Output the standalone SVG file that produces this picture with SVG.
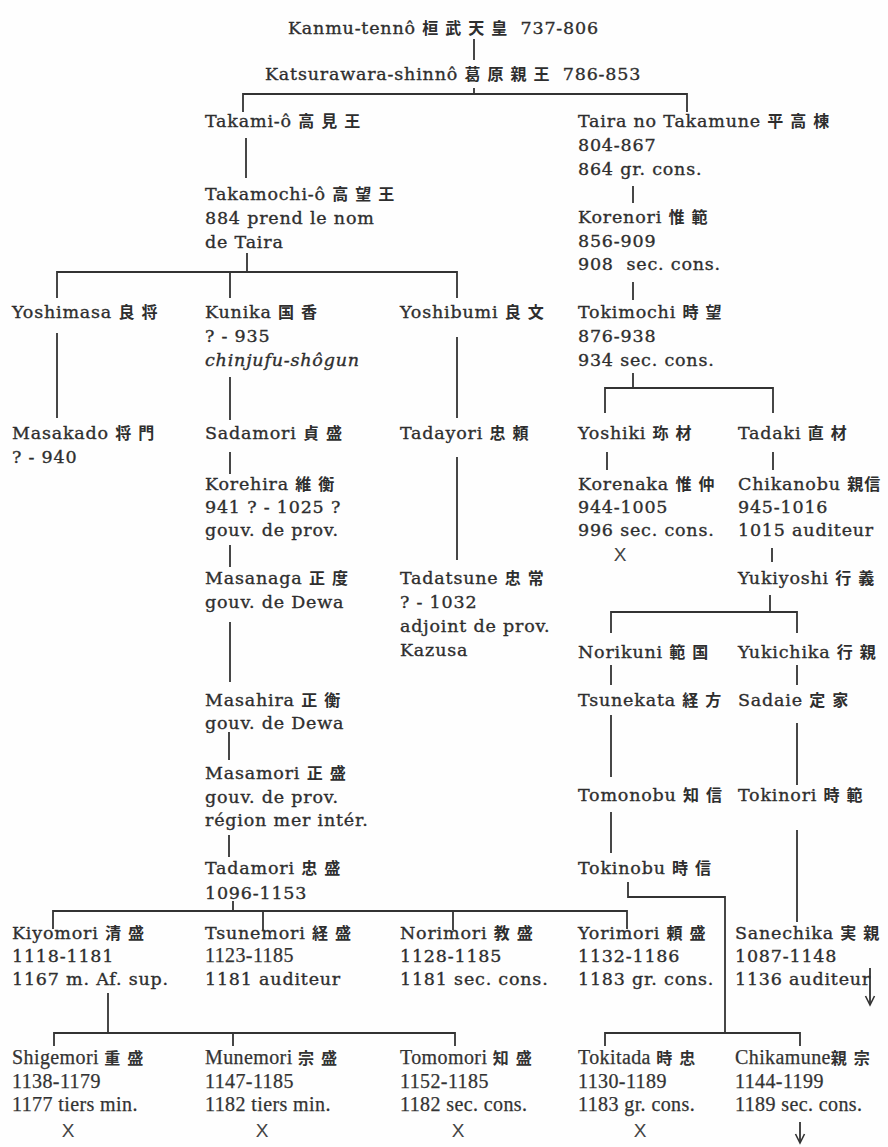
<svg xmlns="http://www.w3.org/2000/svg" width="888" height="1147" viewBox="0 0 888 1147">
<style>
.t{font-family:"DejaVu Serif","Noto Sans CJK JP",serif;font-size:17.5px;fill:#2e2e2e;stroke:#2e2e2e;stroke-width:0.35px;letter-spacing:0.8px}
.b{font-family:"Liberation Serif","Noto Sans CJK JP",serif;font-size:20px;fill:#333;stroke:#333;stroke-width:0.25px;letter-spacing:0.4px}
.k{font-family:"Noto Sans CJK JP",sans-serif;font-size:16px;font-weight:700;letter-spacing:7px;stroke-width:0}
.i{font-style:italic}
.x{font-family:"Liberation Sans",sans-serif;font-size:19px;fill:#444;text-anchor:middle}
.c{fill:none;stroke:#333;stroke-width:1.8}
.a{fill:none;stroke:#333;stroke-width:1.6}
</style>
<rect width="888" height="1147" fill="#fefefe"/>
<g id="connectors" class="c">
<path d="M474 39V60"/>
<path d="M474 88V94M243 112V94H687V112"/>
<path d="M246 138V178"/>
<path d="M633 186V203"/>
<path d="M247 253V272M57 298V272H457V298M230 272V298"/>
<path d="M633 282V300"/>
<path d="M57 333V418"/>
<path d="M230 377V420"/>
<path d="M457 337V418"/>
<path d="M633 373V388M605 413V388H773V413"/>
<path d="M230 452V474"/>
<path d="M457 457V560"/>
<path d="M607 452V470M773 452V470"/>
<path d="M230 545V567"/>
<path d="M772 548V562"/>
<path d="M770 595V612M611 633V612H797V633"/>
<path d="M230 622V682"/>
<path d="M611 665V685M797 665V685"/>
<path d="M229 732V760"/>
<path d="M611 715V777M797 723V785"/>
<path d="M229 835V857"/>
<path d="M611 812V853"/>
<path d="M797 830V922"/>
<path d="M233 901V911M53 929V911H627V929M263 911V930M453 911V930"/>
<path d="M628 882V897H725V1033M605 1046V1033H800V1046"/>
<path d="M108 993V1033M54 1046V1033H455V1046M233 1033V1046"/>
<path d="M870 968V1004"/>
<path class="a" d="M865.5 996L870 1005L874.5 996"/>
<path d="M800 1122V1142"/>
<path class="a" d="M795.5 1134L800 1143L804.5 1134"/>
</g>
<g id="n-kanmu"><text class="t" x="288" y="34">Kanmu-tennô <tspan class="k">桓武天皇</tspan> 737-806</text></g>
<g id="n-katsurawara"><text class="t" x="265" y="80">Katsurawara-shinnô <tspan class="k">葛原親王</tspan> 786-853</text></g>
<g id="n-takami"><text class="t" x="205" y="127">Takami-ô <tspan class="k">高見王</tspan></text></g>
<g id="n-takamune"><text class="t" x="578" y="127">Taira no Takamune <tspan class="k">平高棟</tspan></text><text class="t" x="578" y="151">804-867</text><text class="t" x="578" y="175">864 gr. cons.</text></g>
<g id="n-takamochi"><text class="t" x="205" y="200">Takamochi-ô <tspan class="k">高望王</tspan></text><text class="t" x="205" y="224">884 prend le nom</text><text class="t" x="205" y="248">de Taira</text></g>
<g id="n-korenori"><text class="t" x="578" y="223">Korenori <tspan class="k">惟範</tspan></text><text class="t" x="578" y="247">856-909</text><text class="t" x="578" y="270" style="white-space:pre">908  sec. cons.</text></g>
<g id="n-yoshimasa"><text class="t" x="12" y="318">Yoshimasa <tspan class="k">良将</tspan></text></g>
<g id="n-kunika"><text class="t" x="205" y="318">Kunika <tspan class="k">国香</tspan></text><text class="t" x="205" y="342">? - 935</text><text class="t i" x="205" y="366">chinjufu-shôgun</text></g>
<g id="n-yoshibumi"><text class="t" x="400" y="318">Yoshibumi <tspan class="k">良文</tspan></text></g>
<g id="n-tokimochi"><text class="t" x="578" y="318">Tokimochi <tspan class="k">時望</tspan></text><text class="t" x="578" y="342">876-938</text><text class="t" x="578" y="366">934 sec. cons.</text></g>
<g id="n-masakado"><text class="t" x="12" y="439">Masakado <tspan class="k">将門</tspan></text><text class="t" x="12" y="463">? - 940</text></g>
<g id="n-sadamori"><text class="t" x="205" y="439">Sadamori <tspan class="k">貞盛</tspan></text></g>
<g id="n-tadayori"><text class="t" x="400" y="439">Tadayori <tspan class="k">忠頼</tspan></text></g>
<g id="n-yoshiki"><text class="t" x="578" y="439">Yoshiki <tspan class="k">珎材</tspan></text></g>
<g id="n-tadaki"><text class="t" x="738" y="439">Tadaki <tspan class="k">直材</tspan></text></g>
<g id="n-korehira"><text class="t" x="205" y="490">Korehira <tspan class="k">維衡</tspan></text><text class="t" x="205" y="513">941 ? - 1025 ?</text><text class="t" x="205" y="536">gouv. de prov.</text></g>
<g id="n-korenaka"><text class="t" x="578" y="490">Korenaka <tspan class="k">惟仲</tspan></text><text class="t" x="578" y="513">944-1005</text><text class="t" x="578" y="536">996 sec. cons.</text><text class="x" x="620" y="561">X</text></g>
<g id="n-chikanobu"><text class="t" x="738" y="490">Chikanobu <tspan class="k" style="letter-spacing:1px">親信</tspan></text><text class="t" x="738" y="513">945-1016</text><text class="t" x="738" y="536">1015 auditeur</text></g>
<g id="n-masanaga"><text class="t" x="205" y="584">Masanaga <tspan class="k">正度</tspan></text><text class="t" x="205" y="608">gouv. de Dewa</text></g>
<g id="n-tadatsune"><text class="t" x="400" y="584">Tadatsune <tspan class="k">忠常</tspan></text><text class="t" x="400" y="608">? - 1032</text><text class="t" x="400" y="632">adjoint de prov.</text><text class="t" x="400" y="656">Kazusa</text></g>
<g id="n-yukiyoshi"><text class="t" x="738" y="584">Yukiyoshi <tspan class="k">行義</tspan></text></g>
<g id="n-norikuni"><text class="t" x="578" y="658">Norikuni <tspan class="k">範国</tspan></text></g>
<g id="n-yukichika"><text class="t" x="738" y="658">Yukichika <tspan class="k">行親</tspan></text></g>
<g id="n-masahira"><text class="t" x="205" y="706">Masahira <tspan class="k">正衡</tspan></text><text class="t" x="205" y="729">gouv. de Dewa</text></g>
<g id="n-tsunekata"><text class="t" x="578" y="706">Tsunekata <tspan class="k">経方</tspan></text></g>
<g id="n-sadaie"><text class="t" x="738" y="706">Sadaie <tspan class="k">定家</tspan></text></g>
<g id="n-masamori"><text class="t" x="205" y="779">Masamori <tspan class="k">正盛</tspan></text><text class="t" x="205" y="803">gouv. de prov.</text><text class="t" x="205" y="826">région mer intér.</text></g>
<g id="n-tomonobu"><text class="t" x="578" y="801">Tomonobu <tspan class="k">知信</tspan></text></g>
<g id="n-tokinori"><text class="t" x="738" y="801">Tokinori <tspan class="k">時範</tspan></text></g>
<g id="n-tadamori"><text class="t" x="205" y="874">Tadamori <tspan class="k">忠盛</tspan></text><text class="t" x="205" y="899">1096-1153</text></g>
<g id="n-tokinobu"><text class="t" x="578" y="874">Tokinobu <tspan class="k">時信</tspan></text></g>
<g id="n-kiyomori"><text class="t" x="12" y="939">Kiyomori <tspan class="k">清盛</tspan></text><text class="t" x="12" y="962">1118-1181</text><text class="t" x="12" y="985">1167 m. Af. sup.</text></g>
<g id="n-tsunemori"><text class="t" x="205" y="939">Tsunemori <tspan class="k">経盛</tspan></text><text class="b" x="205" y="962">1123-1185</text><text class="t" x="205" y="985">1181 auditeur</text></g>
<g id="n-norimori"><text class="t" x="400" y="939">Norimori <tspan class="k">教盛</tspan></text><text class="t" x="400" y="962">1128-1185</text><text class="t" x="400" y="985">1181 sec. cons.</text></g>
<g id="n-yorimori"><text class="t" x="578" y="939">Yorimori <tspan class="k">頼盛</tspan></text><text class="t" x="578" y="962">1132-1186</text><text class="t" x="578" y="985">1183 gr. cons.</text></g>
<g id="n-sanechika"><text class="t" x="735" y="939">Sanechika <tspan class="k">実親</tspan></text><text class="t" x="735" y="962">1087-1148</text><text class="t" x="735" y="985">1136 auditeur</text></g>
<g id="n-shigemori"><text class="b" x="12" y="1064">Shigemori <tspan class="k">重盛</tspan></text><text class="b" x="12" y="1088">1138-1179</text><text class="b" x="12" y="1111">1177 tiers min.</text><text class="x" x="68" y="1137">X</text></g>
<g id="n-munemori"><text class="b" x="205" y="1064">Munemori <tspan class="k">宗盛</tspan></text><text class="b" x="205" y="1088">1147-1185</text><text class="b" x="205" y="1111">1182 tiers min.</text><text class="x" x="262" y="1137">X</text></g>
<g id="n-tomomori"><text class="b" x="400" y="1064">Tomomori <tspan class="k">知盛</tspan></text><text class="b" x="400" y="1088">1152-1185</text><text class="b" x="400" y="1111">1182 sec. cons.</text><text class="x" x="458" y="1137">X</text></g>
<g id="n-tokitada"><text class="b" x="578" y="1064">Tokitada <tspan class="k">時忠</tspan></text><text class="b" x="578" y="1088">1130-1189</text><text class="b" x="578" y="1111">1183 gr. cons.</text><text class="x" x="640" y="1137">X</text></g>
<g id="n-chikamune"><text class="b" x="735" y="1064">Chikamune<tspan class="k">親宗</tspan></text><text class="b" x="735" y="1088">1144-1199</text><text class="b" x="735" y="1111">1189 sec. cons.</text></g>
</svg>
